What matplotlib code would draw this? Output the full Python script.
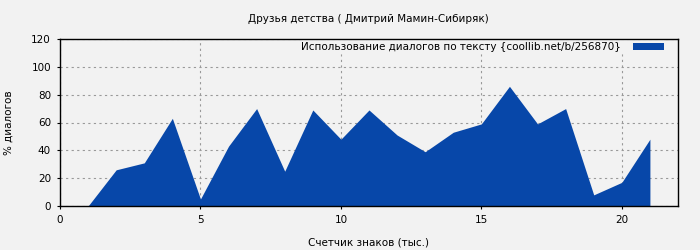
import matplotlib
matplotlib.use("Agg")
import matplotlib.pyplot as plt

# values
chars_k = [1, 2, 3, 4, 5, 6, 7, 8, 9, 10, 11, 12, 13, 14, 15, 16, 17, 18, 19, 20, 21]
dialog_pct = [0, 26, 31, 63, 5, 43, 70, 25, 69, 48, 69, 51, 39, 53, 59, 86, 59, 70, 8, 17, 48]

title = "Друзья детства ( Дмитрий Мамин-Сибиряк)"
series_label = "Использование диалогов по тексту {coollib.net/b/256870}"
x_label = "Счетчик знаков (тыс.)"
y_label = "% диалогов"

bg = "#f2f2f2"
blue = "#0747a9"

fig = plt.figure(figsize=(7, 2.5), dpi=100, facecolor=bg)
ax = fig.add_axes([60 / 700, 1 - 206 / 250, 618 / 700, 167 / 250])
ax.set_facecolor(bg)

ax.fill_between(chars_k, dialog_pct, 0, color=blue, linewidth=0, label=series_label, zorder=2)

ax.set_xlim(0, 22)
ax.set_ylim(0, 120)
ax.set_xticks([0, 5, 10, 15, 20])
ax.set_yticks(range(0, 121, 20))
ax.grid(True, color="#999999", linestyle=(0, (2, 3)), linewidth=0.8, zorder=1)
ax.tick_params(labelsize=7.5, length=2.5, width=0.8, pad=4, colors="black")
for s in ax.spines.values():
    s.set_linewidth(1)
    s.set_zorder(3)

fig.text(368 / 700, 1 - 19 / 250, title, ha="center", va="center", fontsize=7.5)
ax.set_xlabel(x_label, fontsize=7.5, labelpad=9)
ax.set_ylabel(y_label, fontsize=7.5, labelpad=13)

leg = ax.legend(loc="center right", bbox_to_anchor=(605 / 618, 1 - 8.3 / 167),
                frameon=True, fontsize=7.5, markerfirst=False,
                handlelength=3.0, handleheight=0.65, handletextpad=1.15,
                borderpad=0.1, borderaxespad=0)
leg.get_frame().set_facecolor(bg)
leg.get_frame().set_edgecolor(bg)
leg.get_frame().set_alpha(1)

fig.savefig("out.png", dpi=100, facecolor=bg)
